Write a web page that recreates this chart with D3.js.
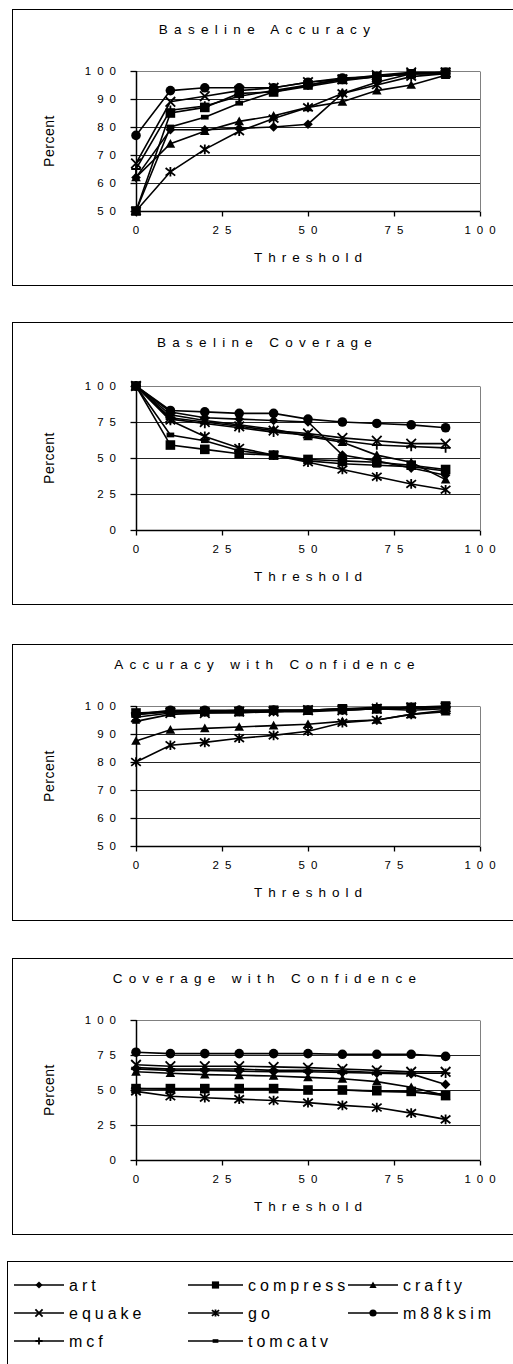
<!DOCTYPE html>
<html><head><meta charset="utf-8">
<script src="https://cdn.jsdelivr.net/npm/d3@7"></script>
<style>
html,body{margin:0;padding:0;background:#fff;}
svg{display:block;font-family:"Liberation Sans",Arial,sans-serif;}
</style></head>
<body>
<svg id="c" width="513" height="1364"></svg>
<script>
// ---------------- DATA ----------------
const thresholds = [0, 10, 20, 30, 40, 50, 60, 70, 80, 90];
const seriesNames = ["art", "compress", "crafty", "equake", "go", "m88ksim", "mcf", "tomcatv"];
const seriesMarkers = ["diamond", "square", "triangle", "x", "asterisk", "circle", "plus", "dash"];
const chartTitles = ["Baseline Accuracy", "Baseline Coverage", "Accuracy with Confidence", "Coverage with Confidence"];
const accuracyTicks = [50, 60, 70, 80, 90, 100];
const coverageTicks = [0, 25, 50, 75, 100];
const xTicks = [0, 25, 50, 75, 100];

// series order: art, compress, crafty, equake, go, m88ksim, mcf, tomcatv
const baselineAccuracy = [
  [62, 79, 79, 79.5, 80, 81, 92, 96, 99, 99],
  [50, 85, 87, 92, 92.5, 95, 97, 98, 99, 99.5],
  [62, 74, 78.5, 82, 84, 87, 89, 93, 95, 98.5],
  [67, 89, 91, 93, 94, 96, 97, 98.5, 99.5, 99.5],
  [50, 64, 72, 78.5, 83, 87, 92, 95, 98, 99],
  [77, 93, 94, 94, 94, 96, 97.5, 98, 99, 99.5],
  [65, 86, 87.5, 91, 93, 95, 97, 98, 99, 99],
  [50, 80, 83.5, 88.5, 92.5, 94.5, 96.5, 98, 99, 99]
];
const baselineCoverage = [
  [100, 82, 78, 77, 76, 75, 52, 48, 43, 38],
  [100, 59, 56, 53, 52, 49, 48, 47, 45, 42],
  [100, 80, 76, 73, 70, 65, 61, 52, 47, 35],
  [100, 78, 75, 72, 69, 67, 64, 62, 60, 60],
  [100, 76, 65, 57, 52, 47, 42, 37, 32, 28],
  [100, 83, 82, 81, 81, 77, 75, 74, 73, 71],
  [100, 77, 74, 71, 68, 66, 62, 59, 58, 57],
  [100, 66, 62, 55, 52, 48, 46, 45, 44, 41]
];
const accuracyConfidence = [
  [97, 98, 98, 98, 98, 98.5, 99, 99, 99.5, 99.5],
  [97.5, 98, 98, 98, 98.5, 98.5, 99, 99, 99.5, 100],
  [87.5, 91.5, 92, 92.5, 93, 93.5, 94.5, 95, 97, 98],
  [96, 97.5, 97.5, 98, 98, 98.5, 98.5, 99, 99.5, 99.5],
  [80, 86, 87, 88.5, 89.5, 91, 94, 95, 97, 98.5],
  [97, 98.5, 98.5, 98.5, 98.5, 98.5, 98.5, 99, 99, 99.5],
  [97, 98, 98, 98.5, 98.5, 98.5, 99, 99.5, 99.5, 99.5],
  [94.5, 97, 97.5, 97.5, 98, 98, 98.5, 99, 98.5, 99]
];
const coverageConfidence = [
  [65, 64, 64, 63.5, 63, 63, 62.5, 62, 61.5, 54],
  [51, 51, 51, 51, 51, 50, 50, 49.5, 49, 46],
  [63, 62, 61, 60.5, 60, 59, 58, 56, 52, 46],
  [68, 67, 67, 67, 66.5, 66, 65, 64, 63, 63],
  [49, 45.5, 44.5, 43.5, 42.5, 41, 39, 37.5, 33.5, 29],
  [77, 76, 76, 76, 76, 76, 75.5, 75.5, 75.5, 74],
  [66, 65, 65, 65, 64, 64, 63.5, 62.5, 62, 62],
  [51, 50.5, 50.5, 50.5, 50.5, 50, 50, 49, 48.5, 47]
];

// ---------------- LAYOUT ----------------
const charts = [
  {title: chartTitles[0], data: baselineAccuracy, ticks: accuracyTicks, domain: [50, 100], top: 9, bottom: 285, pTop: 71, pBot: 211},
  {title: chartTitles[1], data: baselineCoverage, ticks: coverageTicks, domain: [0, 100], top: 322, bottom: 604, pTop: 386, pBot: 530},
  {title: chartTitles[2], data: accuracyConfidence, ticks: accuracyTicks, domain: [50, 100], top: 644, bottom: 920, pTop: 706, pBot: 846},
  {title: chartTitles[3], data: coverageConfidence, ticks: coverageTicks, domain: [0, 100], top: 958, bottom: 1234, pTop: 1020, pBot: 1160}
];
const plotLeft = 136, plotRight = 480;
const frameLeft = 12, frameRight = 517;
const LS = 6; // letter spacing of chart texts

const svg = d3.select("#c");
svg.append("rect").attr("width", 513).attr("height", 1364).attr("fill", "#fff");

function markerPath(type, s) {
  const p = d3.path();
  switch (type) {
    case "diamond": p.moveTo(0, -s); p.lineTo(s, 0); p.lineTo(0, s); p.lineTo(-s, 0); p.closePath(); break;
    case "square": p.rect(-s, -s, 2 * s, 2 * s); break;
    case "triangle": p.moveTo(0, -s); p.lineTo(s, s * 0.8); p.lineTo(-s, s * 0.8); p.closePath(); break;
    case "circle": p.arc(0, 0, s, 0, 2 * Math.PI); break;
    case "x": p.moveTo(-s, -s); p.lineTo(s, s); p.moveTo(-s, s); p.lineTo(s, -s); break;
    case "asterisk": p.moveTo(-s, -s * 0.8); p.lineTo(s, s * 0.8); p.moveTo(-s, s * 0.8); p.lineTo(s, -s * 0.8); p.moveTo(0, -s); p.lineTo(0, s); break;
    case "plus": p.moveTo(-s, 0); p.lineTo(s, 0); p.moveTo(0, -s); p.lineTo(0, s); break;
    case "dash": p.rect(-s * 0.8, -s * 0.5, s * 1.6, s); break;
  }
  return p.toString();
}
const filled = t => ["diamond", "square", "triangle", "circle", "dash"].includes(t);

function drawMarker(g, type, x, y, s) {
  const m = g.append("path").attr("d", markerPath(type, s)).attr("transform", `translate(${x},${y})`);
  if (filled(type)) m.attr("fill", "#000").attr("stroke", "none");
  else m.attr("fill", "none").attr("stroke", "#000").attr("stroke-width", 1.8);
}

charts.forEach(c => {
  const g = svg.append("g");
  g.append("rect").attr("x", frameLeft + 0.5).attr("y", c.top + 0.5)
    .attr("width", frameRight - frameLeft).attr("height", c.bottom - c.top)
    .attr("fill", "#fff").attr("stroke", "#000").attr("stroke-width", 1);

  const x = d3.scaleLinear().domain([0, 100]).range([plotLeft, plotRight]);
  const y = d3.scaleLinear().domain(c.domain).range([c.pBot, c.pTop]);

  // gridlines
  g.selectAll("line.grid").data(c.ticks.slice(1)).enter().append("line")
    .attr("x1", plotLeft).attr("x2", plotRight)
    .attr("y1", d => Math.round(y(d)) + 0.5).attr("y2", d => Math.round(y(d)) + 0.5)
    .attr("stroke", d => d === c.domain[1] ? "#808080" : "#222").attr("stroke-width", 1);
  // right border
  g.append("line").attr("x1", plotRight + 0.5).attr("x2", plotRight + 0.5)
    .attr("y1", Math.round(c.pTop) + 0.5).attr("y2", c.pBot).attr("stroke", "#808080");

  // axes
  const yAxis = d3.axisLeft(y).tickValues(c.ticks).tickSize(6).tickFormat("");
  const ya = g.append("g").attr("transform", `translate(${plotLeft + 0.5},0)`).call(yAxis);
  const xAxis = d3.axisBottom(x).tickValues(xTicks).tickSize(5).tickFormat("");
  const xa = g.append("g").attr("transform", `translate(0,${Math.round(c.pBot) + 0.5})`).call(xAxis);
  [ya, xa].forEach(a => { a.selectAll("path,line").attr("stroke", "#000").attr("stroke-width", 1.3); a.select(".domain").attr("stroke-width", 1.5); });
  ya.select(".domain").attr("d", `M0,${c.pBot}V${c.pTop}`);
  xa.select(".domain").attr("d", `M${plotLeft},0H${plotRight}`);

  // tick labels
  g.selectAll("text.yt").data(c.ticks).enter().append("text")
    .attr("x", 116 + LS).attr("y", d => y(d)).attr("dy", "0.35em")
    .attr("text-anchor", "end").attr("font-size", 11.5).attr("letter-spacing", LS)
    .text(d => d);
  g.selectAll("text.xt").data(xTicks).enter().append("text")
    .attr("x", d => x(d) + LS / 2).attr("y", c.pBot + 19).attr("dy", "0.35em")
    .attr("text-anchor", "middle").attr("font-size", 11.5).attr("letter-spacing", LS)
    .text(d => d);

  // titles
  g.append("text").attr("x", (frameLeft + frameRight) / 2 + LS / 2).attr("y", c.top + 20).attr("dy", "0.35em")
    .attr("text-anchor", "middle").attr("font-size", 13.5).attr("letter-spacing", 6.3).text(c.title);
  g.append("text").attr("x", (plotLeft + plotRight) / 2 + LS / 2).attr("y", c.pBot + 46).attr("dy", "0.35em")
    .attr("text-anchor", "middle").attr("font-size", 13.5).attr("letter-spacing", LS).text("Threshold");
  g.append("text").attr("transform", `translate(49,${(c.pTop + c.pBot) / 2}) rotate(-90)`).attr("dy", "0.35em")
    .attr("text-anchor", "middle").attr("font-size", 14).attr("letter-spacing", 0.5).text("Percent");

  // series
  const line = d3.line().x((d, i) => x(thresholds[i])).y(d => y(d));
  c.data.forEach((vals, si) => {
    g.append("path").attr("d", line(vals)).attr("fill", "none").attr("stroke", "#000").attr("stroke-width", 1.6);
  });
  c.data.forEach((vals, si) => {
    vals.forEach((v, i) => drawMarker(g, seriesMarkers[si], x(thresholds[i]), y(v), 4.8));
  });
});

// ---------------- LEGEND ----------------
const lg = svg.append("g");
lg.append("rect").attr("x", 7.5).attr("y", 1261.5).attr("width", 520).attr("height", 120)
  .attr("fill", "#fff").attr("stroke", "#000");
const colX = [14, 188, 348];
const colW = [50, 55, 50];
const rowY = [1285, 1313, 1341];
seriesNames.forEach((name, i) => {
  const col = i % 3, row = Math.floor(i / 3);
  const x0 = colX[col], w = colW[col], yy = rowY[row];
  lg.append("line").attr("x1", x0).attr("x2", x0 + w).attr("y1", yy).attr("y2", yy)
    .attr("stroke", "#000").attr("stroke-width", 1.5);
  drawMarker(lg, seriesMarkers[i], x0 + w / 2, yy, 3.6);
  lg.append("text").attr("x", x0 + w + 5).attr("y", yy).attr("dy", "0.35em")
    .attr("font-size", 16).attr("letter-spacing", 4).text(name);
});
</script>
</body></html>
